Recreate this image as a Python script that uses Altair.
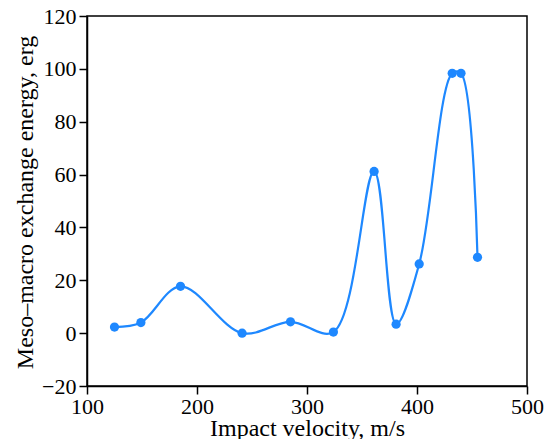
import altair as alt
import pandas as pd

velocity = [125, 149, 185, 241, 285, 324, 361, 381, 402, 432, 440, 455]
energy = [2.3, 4.0, 17.7, 0.0, 4.3, 0.4, 61.2, 3.4, 26.2, 98.3, 98.3, 28.7]

df = pd.DataFrame({"v": velocity, "e": energy})

FONT = "Liberation Serif"
BLUE = "#1E88FF"

x = alt.X("v:Q", scale=alt.Scale(domain=[100, 500], nice=False),
          axis=alt.Axis(title="Impact velocity, m/s", values=[100, 200, 300, 400, 500],
                        titleBaseline="alphabetic", titleY=49, labelPadding=2,
                        labelFlush=False, labelOverlap=False))
y = alt.Y("e:Q", scale=alt.Scale(domain=[-20, 120], nice=False),
          axis=alt.Axis(title="Meso\u2013macro exchange energy, erg",
                        values=[-20, 0, 20, 40, 60, 80, 100, 120],
                        titleBaseline="alphabetic", titleX=-55, titleY=186,
                        labelPadding=3, labelFlush=False, labelOverlap=False))

base = alt.Chart(df).encode(x=x, y=y)
line = base.mark_line(interpolate="catmull-rom", color=BLUE, strokeWidth=2.2)
pts = base.mark_circle(color=BLUE, size=85, opacity=1)

chart = (line + pts).properties(
    width=440, height=370,
    autosize=alt.AutoSizeParams(type="none"),
    padding={"left": 79, "top": 8, "right": 18, "bottom": 53},
).configure_view(
    stroke="#000000", strokeWidth=1.5
).configure_axis(
    grid=False,
    domainColor="#000000", domainWidth=1.5,
    tickColor="#000000", tickWidth=1.5, tickSize=8,
    labelFont=FONT, labelFontSize=22, labelColor="#000000",
    titleFont=FONT, titleFontSize=24, titleColor="#000000", titleFontWeight="normal",
)

chart.save("out.html", embed_options={"renderer": "svg", "actions": False})
